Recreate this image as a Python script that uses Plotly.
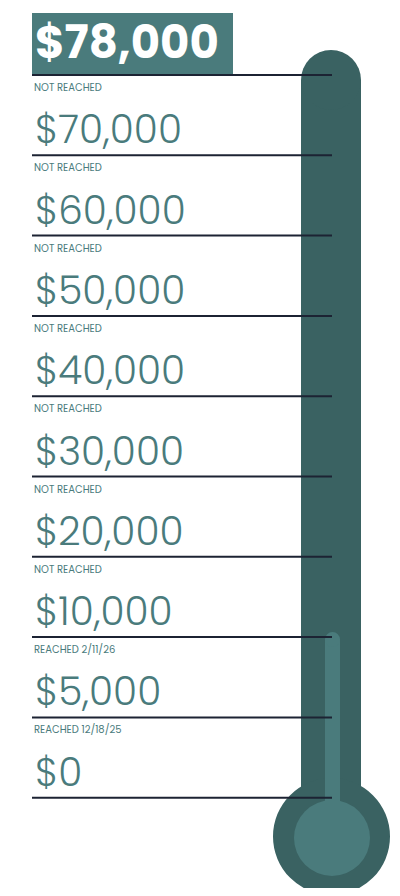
import plotly.graph_objects as go

# Paliers du thermomètre (du haut vers le bas)
paliers = ["$78,000", "$70,000", "$60,000", "$50,000", "$40,000",
           "$30,000", "$20,000", "$10,000", "$5,000", "$0"]
statuts = ["NOT REACHED"] * 7 + ["REACHED 2/11/26", "REACHED 12/18/25"]
palier_atteint = "$10,000"

teal_fonce = "#3a6262"
teal = "#4a7b7c"
encre = "#1c2333"

# position verticale de chaque ligne (pixels)
y0, pas = 75, 80.3
lignes_y = [y0 + pas * i for i in range(len(paliers))]

fig = go.Figure()
shapes = []
annotations = []

# tube + bulbe
shapes.append(dict(type="rect", x0=301, x1=361, y0=80, y1=830, fillcolor=teal_fonce, line_width=0, layer="below"))
shapes.append(dict(type="circle", x0=301, x1=361, y0=50, y1=110, fillcolor=teal_fonce, line_width=0, layer="below"))
shapes.append(dict(type="circle", x0=273, x1=390, y0=778, y1=895, fillcolor=teal_fonce, line_width=0, layer="below"))
shapes.append(dict(type="circle", x0=294, x1=370, y0=800, y1=876, fillcolor=teal, line_width=0, layer="below"))

# remplissage jusqu'au palier atteint
haut = lignes_y[paliers.index(palier_atteint)] - 5
shapes.append(dict(type="rect", x0=325, x1=340, y0=haut + 7, y1=820, fillcolor=teal, line_width=0, layer="below"))
shapes.append(dict(type="circle", x0=325, x1=340, y0=haut, y1=haut + 15, fillcolor=teal, line_width=0, layer="below"))

# lignes horizontales
fig.add_trace(go.Scatter(
    x=sum([[32, 332, None] for _ in lignes_y], []),
    y=sum([[y, y, None] for y in lignes_y], []),
    mode="lines", line=dict(color=encre, width=2), hoverinfo="skip", showlegend=False))

for i, (p, y) in enumerate(zip(paliers, lignes_y)):
    if i == 0:
        shapes.append(dict(type="rect", x0=32, x1=233, y0=13, y1=y, fillcolor=teal, line_width=0, layer="below"))
        annotations.append(dict(x=33, y=y + 1, text="<b>" + p + "</b>", showarrow=False, xanchor="left", yanchor="bottom",
                                font=dict(family="Poppins, Lato, sans-serif", size=45, color="white", weight=900)))
    else:
        annotations.append(dict(x=33, y=y + 4, text=p, showarrow=False, xanchor="left", yanchor="bottom",
                                font=dict(family="Poppins, Lato, sans-serif", size=39, color=teal, weight=300)))
for s, y in zip(statuts, lignes_y):
    annotations.append(dict(x=32, y=y + 3, text=s, showarrow=False, xanchor="left", yanchor="top",
                            font=dict(family="Poppins, Lato, sans-serif", size=10, color=teal)))

# la page ajoute une marge de 8 px : la figure est réduite d'autant
fig.update_layout(
    width=384, height=880, margin=dict(l=0, r=0, t=0, b=0),
    plot_bgcolor="white", paper_bgcolor="white",
    shapes=shapes, annotations=annotations,
    xaxis=dict(range=[8, 392], visible=False, fixedrange=True),
    yaxis=dict(range=[888, 8], visible=False, fixedrange=True),
)

fig.write_html("out.html")
